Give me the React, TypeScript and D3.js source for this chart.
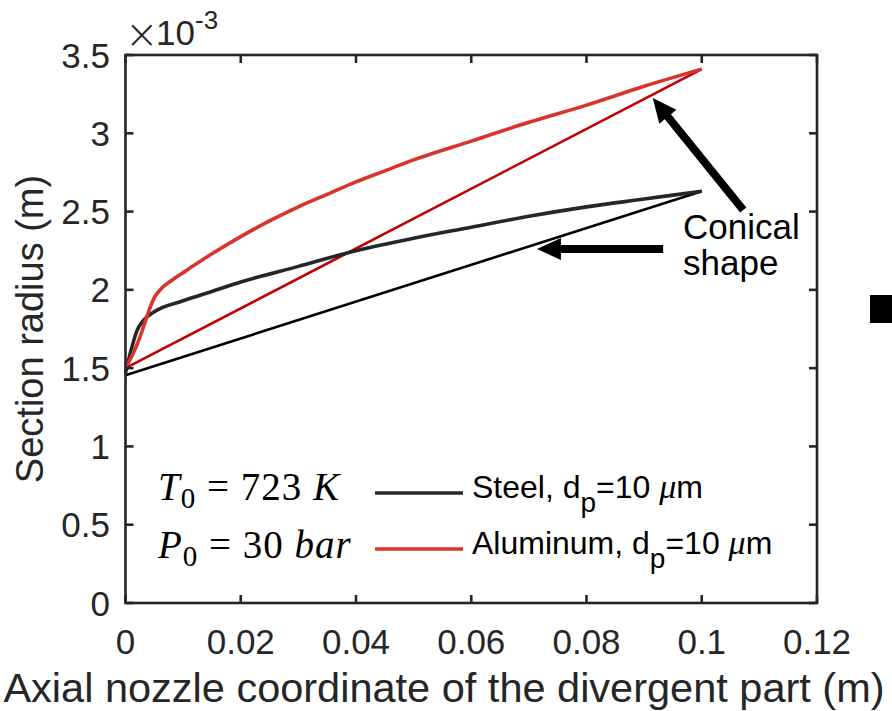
import React, { useEffect, useRef } from "react";
import * as d3 from "d3";

// curves (x in m, radius in units of 1e-3 m)
const steelX = [0, 0.001, 0.002, 0.003, 0.005, 0.01, 0.015, 0.02, 0.03, 0.04, 0.05, 0.06, 0.07, 0.08, 0.09, 0.1];
const steelR = [1.47, 1.62, 1.74, 1.8, 1.86, 1.93, 1.99, 2.05, 2.15, 2.25, 2.33, 2.4, 2.47, 2.53, 2.58, 2.63];

const aluX = [0, 0.001, 0.002, 0.003, 0.004, 0.005, 0.006, 0.008, 0.01, 0.015, 0.02, 0.025, 0.03, 0.035, 0.04, 0.045, 0.05, 0.06, 0.07, 0.08, 0.09, 0.1];
const aluR = [1.5, 1.57, 1.65, 1.75, 1.86, 1.95, 2.0, 2.06, 2.11, 2.23, 2.34, 2.44, 2.53, 2.61, 2.69, 2.76, 2.83, 2.95, 3.07, 3.18, 3.3, 3.41];

const coneX = [0, 0.1];
const steelConeR = [1.455, 2.63];
const aluConeR = [1.5, 3.41];

const xTicks = [0, 0.02, 0.04, 0.06, 0.08, 0.1, 0.12];
const yTicks = [0, 0.5, 1, 1.5, 2, 2.5, 3, 3.5];

// annotation arrows [tailX, tailY, tipX, tipY] in data units
const arrows = [
  [0.0933, 2.261, 0.0714, 2.261],
  [0.1072, 2.51, 0.0915, 3.225],
];

const W = 892, H = 711;
const margin = { left: 125.5, right: 75, top: 55, bottom: 108 };
const AX = "#262626";
const FONT = "'Liberation Sans', Arial, sans-serif";
const MATH = "'Liberation Serif', 'Times New Roman', serif";

export default function App() {
  const ref = useRef<SVGSVGElement>(null);

  useEffect(() => {
    const svg = d3.select(ref.current);
    svg.selectAll("*").remove();

    const x = d3.scaleLinear().domain([0, 0.12]).range([margin.left, W - margin.right]);
    const y = d3.scaleLinear().domain([0, 3.5]).range([H - margin.bottom, margin.top]);
    const x0 = x.range()[0], x1 = x.range()[1];
    const y0 = y.range()[0], y1 = y.range()[1];

    const line = d3.line<[number, number]>().x(d => x(d[0])).y(d => y(d[1]));
    const smooth = d3.line<[number, number]>().x(d => x(d[0])).y(d => y(d[1])).curve(d3.curveMonotoneX);
    const zip = (a: number[], b: number[]) => a.map((v, i) => [v, b[i]] as [number, number]);

    const g = svg.append("g");

    // data lines
    g.append("path").attr("d", line(zip(coneX, steelConeR))).attr("fill", "none")
      .attr("stroke", "#000").attr("stroke-width", 2.6);
    g.append("path").attr("d", line(zip(coneX, aluConeR))).attr("fill", "none")
      .attr("stroke", "#c00000").attr("stroke-width", 2.6);
    g.append("path").attr("d", smooth(zip(steelX, steelR))).attr("fill", "none")
      .attr("stroke", "#262626").attr("stroke-width", 3.6);
    g.append("path").attr("d", smooth(zip(aluX, aluR))).attr("fill", "none")
      .attr("stroke", "#d9332b").attr("stroke-width", 3.6);

    // box + ticks
    g.append("rect").attr("x", x0).attr("y", y1).attr("width", x1 - x0).attr("height", y0 - y1)
      .attr("fill", "none").attr("stroke", AX).attr("stroke-width", 2.6);
    const tl = 8;
    xTicks.forEach(t => {
      g.append("line").attr("x1", x(t)).attr("x2", x(t)).attr("y1", y0).attr("y2", y0 - tl).attr("stroke", AX).attr("stroke-width", 2.6);
      g.append("line").attr("x1", x(t)).attr("x2", x(t)).attr("y1", y1).attr("y2", y1 + tl).attr("stroke", AX).attr("stroke-width", 2.6);
      g.append("text").attr("x", x(t)).attr("y", y0 + 51).attr("text-anchor", "middle")
        .attr("font-family", FONT).attr("font-size", 35).attr("fill", AX).text(String(t));
    });
    yTicks.forEach(t => {
      g.append("line").attr("x1", x0).attr("x2", x0 + tl).attr("y1", y(t)).attr("y2", y(t)).attr("stroke", AX).attr("stroke-width", 2.6);
      g.append("line").attr("x1", x1).attr("x2", x1 - tl).attr("y1", y(t)).attr("y2", y(t)).attr("stroke", AX).attr("stroke-width", 2.6);
      g.append("text").attr("x", 110).attr("y", y(t) + 12.5).attr("text-anchor", "end")
        .attr("font-family", FONT).attr("font-size", 35).attr("fill", AX).text(String(t));
    });

    // exponent
    g.append("text").attr("x", 125).attr("y", 48).attr("font-family", "'DejaVu Sans', sans-serif").attr("font-size", 40)
      .attr("font-weight", 200).attr("fill", AX).text("\u00d7");
    g.append("text").attr("x", 156).attr("y", 45).attr("font-family", FONT).attr("font-size", 35)
      .attr("fill", AX).text("10");
    g.append("text").attr("x", 195).attr("y", 29).attr("font-family", FONT).attr("font-size", 26)
      .attr("fill", AX).text("-3");

    // axis labels
    g.append("text").attr("x", 444).attr("y", 702).attr("text-anchor", "middle")
      .attr("font-family", FONT).attr("font-size", 41.5).attr("fill", AX)
      .text("Axial nozzle coordinate of the divergent part (m)");
    g.append("text").attr("transform", `translate(43,${(y0 + y1) / 2}) rotate(-90)`).attr("text-anchor", "middle")
      .attr("font-family", FONT).attr("font-size", 38).attr("fill", AX).text("Section radius (m)");

    // arrows
    arrows.forEach(([tx, ty, hx, hy]) => {
      const ax = x(tx), ay = y(ty), bx = x(hx), by = y(hy);
      const ang = Math.atan2(by - ay, bx - ax);
      const len = Math.hypot(bx - ax, by - ay);
      const hl = 24, hw = 11, sw = 4;
      const pts = [
        [0, -sw], [len - hl, -sw], [len - hl, -hw], [len, 0], [len - hl, hw], [len - hl, sw], [0, sw],
      ].map(([u, v]) => [ax + u * Math.cos(ang) - v * Math.sin(ang), ay + u * Math.sin(ang) + v * Math.cos(ang)]);
      g.append("path").attr("d", "M" + pts.map(p => p.join(",")).join("L") + "Z").attr("fill", "#000");
    });

    // annotation text
    g.append("text").attr("x", 683).attr("y", 239).attr("font-family", FONT).attr("font-size", 35).attr("fill", "#000").text("Conical");
    g.append("text").attr("x", 683).attr("y", 275).attr("font-family", FONT).attr("font-size", 35).attr("fill", "#000").text("shape");

    // legend
    const legend = [
      { name: "Steel", color: "#262626", yy: 493 },
      { name: "Aluminum", color: "#d9332b", yy: 549 },
    ];
    legend.forEach(d => {
      g.append("line").attr("x1", 375).attr("x2", 463).attr("y1", d.yy).attr("y2", d.yy)
        .attr("stroke", d.color).attr("stroke-width", 3.6);
      const t = g.append("text").attr("x", 472).attr("y", d.yy + 5).attr("font-family", FONT).attr("font-size", 32).attr("fill", "#000");
      t.append("tspan").text(d.name + ", d");
      t.append("tspan").attr("dy", 14).attr("font-size", 28).text("p");
      t.append("tspan").attr("dy", -14).text("=10 ");
      t.append("tspan").attr("font-family", MATH).attr("font-style", "italic").attr("font-size", 34).text("\u03bc");
      t.append("tspan").text("m");
    });

    // math conditions
    const cond = [
      { v: "T", rest: " = 723 ", unit: "K", yy: 500 },
      { v: "P", rest: " = 30 ", unit: "bar", yy: 558 },
    ];
    cond.forEach(c => {
      const t = g.append("text").attr("x", 158).attr("y", c.yy).attr("font-family", MATH).attr("font-size", 39)
        .attr("letter-spacing", 1).attr("fill", "#000");
      t.append("tspan").attr("font-style", "italic").text(c.v);
      t.append("tspan").attr("dy", 8).attr("font-size", 29).text("0");
      t.append("tspan").attr("dy", -8).text(c.rest);
      t.append("tspan").attr("font-style", "italic").text(c.unit);
    });

    // clipped marker at right edge
    g.append("rect").attr("x", 870).attr("y", 295).attr("width", 22).attr("height", 28).attr("fill", "#000");
  }, []);

  return (
    <svg ref={ref} width={W} height={H} style={{ position: "absolute", left: 0, top: 0, background: "#fff" }} />
  );
}
